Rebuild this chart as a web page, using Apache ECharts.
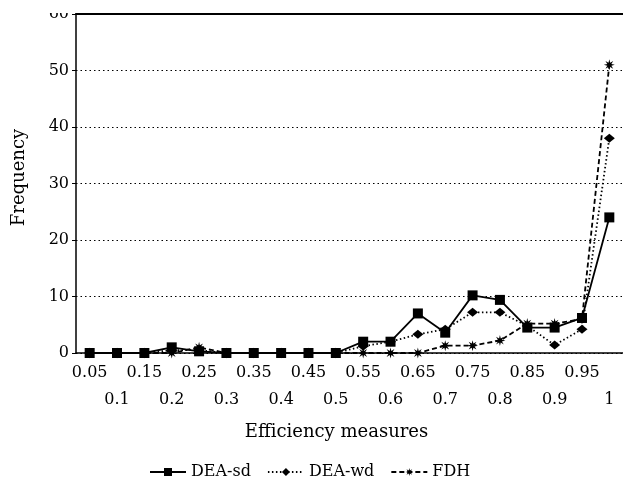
<!DOCTYPE html>
<html><head><meta charset="utf-8">
<script src="https://cdn.jsdelivr.net/npm/echarts@6/dist/echarts.min.js"></script>
<style>html,body{margin:0;padding:0;background:#fff}#c{width:623px;height:478px}</style>
</head><body><div id="c"></div>
<script>
var categories = ['0.05','0.1','0.15','0.2','0.25','0.3','0.35','0.4','0.45','0.5','0.55','0.6','0.65','0.7','0.75','0.8','0.85','0.9','0.95','1'];
var deaSd = [0,0,0,1,0.3,0,0,0,0,0,2,2,7,3.6,10.2,9.4,4.5,4.5,6.2,24];
var deaWd = [0,0,0,0.5,0.5,0,0,0,0,0,1.2,2,3.3,4.2,7.2,7.2,4.8,1.4,4.2,38];
var fdh   = [0,0,0,0,1,0,0,0,0,0,0,0,0,1.3,1.3,2.2,5.2,5.2,6,51];
var yTicks = {min:0, max:60, interval:10};

var star = 'path://M10 0L11.53 6.3L17.07 2.93L13.7 8.47L20 10L13.7 11.53L17.07 17.07L11.53 13.7L10 20L8.47 13.7L2.93 17.07L6.3 11.53L0 10L6.3 8.47L2.93 2.93L8.47 6.3Z';
var font = 'DejaVu Serif';
var chart = echarts.init(document.getElementById('c'), null, {renderer:'canvas'});
chart.setOption({
  animation:false,
  backgroundColor:'#fff',
  textStyle:{fontFamily:font, color:'#000'},
  grid:{left:76, top:14, width:548, height:339, containLabel:false},
  legend:{
    left:144, top:459, itemWidth:36, itemHeight:10, itemGap:16,
    textStyle:{fontFamily:font, fontSize:16, color:'#000'},
    data:['DEA-sd','DEA-wd','FDH']
  },
  xAxis:[{
    type:'category', data:categories, boundaryGap:true,
    name:'Efficiency measures', nameLocation:'middle', nameGap:70,
    nameTextStyle:{fontFamily:font, fontSize:18, color:'#000', padding:[0,26,0,0]},
    axisLine:{lineStyle:{color:'#000', width:1.5}},
    axisTick:{alignWithLabel:true, length:5, lineStyle:{color:'#000'}},
    axisLabel:{interval:0, margin:6, fontFamily:font, fontSize:16, color:'#000', lineHeight:27,
      formatter:function(v,i){ return i%2===1 ? '\n'+v : v; }},
    splitLine:{show:false}
  },{
    type:'category', data:categories, position:'top',
    axisLine:{show:true, lineStyle:{color:'#000', width:2}},
    axisTick:{show:false}, axisLabel:{show:false}, splitLine:{show:false}
  }],
  yAxis:{
    type:'value', min:yTicks.min, max:yTicks.max, interval:yTicks.interval,
    name:'Frequency', nameLocation:'middle', nameGap:48, nameRotate:90,
    nameTextStyle:{fontFamily:font, fontSize:18, color:'#000', padding:[0,0,0,12]},
    axisLine:{show:true, lineStyle:{color:'#000', width:1.5}},
    axisTick:{show:true, length:4, lineStyle:{color:'#000'}},
    axisLabel:{fontFamily:font, fontSize:16, color:'#000', margin:7},
    splitLine:{show:true, lineStyle:{color:'#000', type:[1.5,3], width:1}}
  },
  graphic:[{type:'rect', shape:{x:0,y:0,width:70,height:13}, style:{fill:'#fff'}, z:100}],
  series:[
    {name:'DEA-sd', type:'line', data:deaSd, symbol:'rect', symbolSize:10,
     lineStyle:{color:'#000', width:1.8, type:'solid'}, itemStyle:{color:'#000'}, z:3},
    {name:'DEA-wd', type:'line', data:deaWd, symbol:'diamond', symbolSize:[11,9],
     lineStyle:{color:'#000', width:1.8, type:[1.5,2.5]}, itemStyle:{color:'#000'}, z:2},
    {name:'FDH', type:'line', data:fdh, symbol:star, symbolSize:11,
     lineStyle:{color:'#000', width:1.8, type:[5,3]}, itemStyle:{color:'#000'}, z:1}
  ]
});
</script></body></html>
